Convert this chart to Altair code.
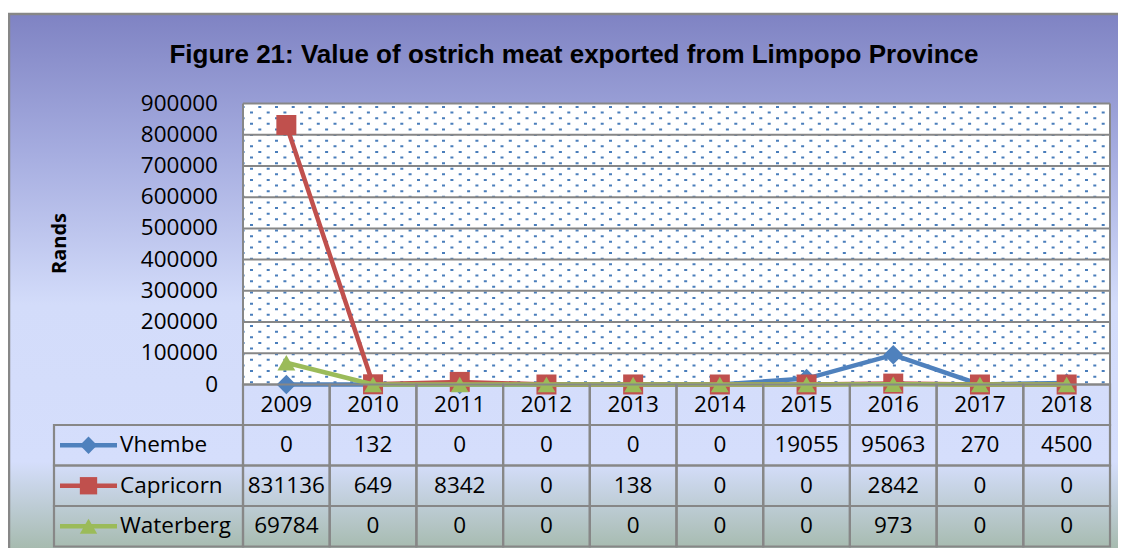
import altair as alt
import pandas as pd
import numpy as np

# ---------------- data ----------------
years = [2009, 2010, 2011, 2012, 2013, 2014, 2015, 2016, 2017, 2018]
series_names = ["Vhembe", "Capricorn", "Waterberg"]
vhembe = [0, 132, 0, 0, 0, 0, 19055, 95063, 270, 4500]
capricorn = [831136, 649, 8342, 0, 138, 0, 0, 2842, 0, 0]
waterberg = [69784, 0, 0, 0, 0, 0, 0, 973, 0, 0]
y_ticks = [0, 100000, 200000, 300000, 400000, 500000, 600000, 700000, 800000, 900000]
title_text = "Figure 21: Value of ostrich meat exported from Limpopo Province"
y_title = "Rands"

series_colors = ["#4F81BD", "#C0504D", "#9BBB59"]
series_shapes = ["diamond", "square", "triangle-up"]
series_sizes = [380, 400, 320]

# ---------------- layout constants ----------------
PLOT_W = 867
PLOT_H = 281
ROW_H = 40.5
TABLE_H = 4 * ROW_H
FONT = "Open Sans"
FS = 22.5
GRID = "#878787"

values_by_series = [vhembe, capricorn, waterberg]
long_rows = []
for name, vals in zip(series_names, values_by_series):
    for yr, v in zip(years, vals):
        long_rows.append({"series": name, "year": yr, "value": v, "row": name, "label": str(v)})
long_df = pd.DataFrame(long_rows)
header_df = pd.DataFrame({"year": years, "row": ["hdr"] * len(years), "label": [str(y) for y in years]})
table_df = pd.concat([header_df, long_df[["year", "row", "label"]]], ignore_index=True)
legend_df = pd.DataFrame({"row": series_names})
tick_df = pd.DataFrame({"tick": y_ticks, "lab": [str(t) for t in y_ticks]})
title_df = pd.DataFrame({"t": [title_text]})
ytitle_df = pd.DataFrame({"t": [y_title]})

# texture of the plot area (dotted fill), decorative only
dot_y = 889000 - 18000 * np.arange(50)
dots_df = pd.DataFrame({"dy": dot_y, "par": np.arange(50) % 2})

xscale = alt.Scale(domain=[2008.5, 2018.5], nice=False, zero=False)
yscale = alt.Scale(domain=[0, 900000], range=[PLOT_H, 0], nice=False)
tscale = alt.Scale(domain=["hdr"] + series_names, range=[PLOT_H, PLOT_H + TABLE_H],
                   paddingInner=0, paddingOuter=0)
cscale = alt.Scale(domain=series_names, range=series_colors)
sscale = alt.Scale(domain=series_names, range=series_shapes)

one = pd.DataFrame({"a": [0]})

# ---------------- background frame & titles ----------------
bg = alt.Chart(one).mark_rect(
    fill=alt.Gradient(
        gradient="linear", x1=0, x2=0, y1=0, y2=1,
        stops=[
            alt.GradientStop(color="#7F83C3", offset=0.0),
            alt.GradientStop(color="#A6ADE0", offset=0.25),
            alt.GradientStop(color="#D3DCFA", offset=0.52),
            alt.GradientStop(color="#D5DEFC", offset=0.80),
            alt.GradientStop(color="#9CB39E", offset=0.99),
        ],
    ),
    stroke="#878787", strokeWidth=2.5,
).encode(x=alt.value(-234), x2=alt.value(PLOT_W + 40), y=alt.value(-89.5), y2=alt.value(470))

title = alt.Chart(title_df).mark_text(
    font="Liberation Sans", fontSize=26, fontWeight="bold", color="black",
    align="center", baseline="alphabetic"
).encode(x=alt.value(331), y=alt.value(-41), text="t:N")

ytitle = alt.Chart(ytitle_df).mark_text(
    font=FONT, fontSize=20, fontWeight="bold", color="black",
    align="center", baseline="middle", angle=270
).encode(x=alt.value(-183), y=alt.value(140), text="t:N")

# ---------------- plot area ----------------
plot_bg = alt.Chart(one).mark_rect(color="white").encode(
    x=alt.value(0), x2=alt.value(PLOT_W), y=alt.value(0), y2=alt.value(PLOT_H))

dots_a = alt.Chart(dots_df).transform_filter("datum.par == 0").mark_rule(
    color="#4A7EBB", strokeWidth=2, strokeDash=[3, 13.7], strokeDashOffset=1.4
).encode(y=alt.Y("dy:Q", scale=yscale, axis=None), x=alt.value(0), x2=alt.value(PLOT_W))
dots_b = alt.Chart(dots_df).transform_filter("datum.par == 1").mark_rule(
    color="#4A7EBB", strokeWidth=2, strokeDash=[3, 13.7], strokeDashOffset=9.7
).encode(y=alt.Y("dy:Q", scale=yscale, axis=None), x=alt.value(0), x2=alt.value(PLOT_W))

grid = alt.Chart(tick_df).mark_rule(color=GRID, strokeWidth=2).encode(
    y=alt.Y("tick:Q", scale=yscale, axis=None),
    x=alt.value(0), x2=alt.value(PLOT_W))

ylabels = alt.Chart(tick_df).mark_text(
    font=FONT, fontSize=FS, color="black", align="right", baseline="middle"
).encode(y=alt.Y("tick:Q", scale=yscale, axis=None), x=alt.value(-25), text="lab:N")

left_border = alt.Chart(one).mark_rule(color=GRID, strokeWidth=2).encode(
    x=alt.value(0), y=alt.value(0), y2=alt.value(PLOT_H))
right_border = alt.Chart(one).mark_rule(color=GRID, strokeWidth=2).encode(
    x=alt.value(PLOT_W), y=alt.value(0), y2=alt.value(PLOT_H))

series_layers = []
for name, col, shp, sz in zip(series_names, series_colors, series_shapes, series_sizes):
    base = alt.Chart(long_df).transform_filter(alt.datum.series == name)
    ln = base.mark_line(color=col, strokeWidth=4.5).encode(
        x=alt.X("year:Q", scale=xscale, axis=None),
        y=alt.Y("value:Q", scale=yscale, axis=None))
    pt = base.mark_point(color=col, filled=True, opacity=1, shape=shp, size=sz).encode(
        x=alt.X("year:Q", scale=xscale, axis=None),
        y=alt.Y("value:Q", scale=yscale, axis=None))
    series_layers += [ln, pt]

value_part = alt.layer(plot_bg, dots_a, dots_b, grid, ylabels, left_border, right_border, *series_layers)

# ---------------- data table ----------------
cells = alt.Chart(table_df).transform_calculate(
    x0="datum.year - 0.5", x1="datum.year + 0.5"
).mark_rect(fill="white", fillOpacity=0, stroke=GRID, strokeWidth=2.2).encode(
    x=alt.X("x0:Q", scale=xscale, axis=None), x2="x1:Q",
    y=alt.Y("row:N", scale=tscale, axis=None))

cell_text = alt.Chart(table_df).mark_text(
    font=FONT, fontSize=FS, color="black", align="center", baseline="middle"
).encode(
    x=alt.X("year:Q", scale=xscale, axis=None),
    y=alt.Y("row:N", scale=tscale, axis=None),
    text="label:N")

leg_cells = alt.Chart(legend_df).mark_rect(fill="white", fillOpacity=0, stroke=GRID, strokeWidth=2.2).encode(
    x=alt.value(-189), x2=alt.value(0), y=alt.Y("row:N", scale=tscale, axis=None))

leg_lines = alt.Chart(legend_df).mark_rule(strokeWidth=4.5).encode(
    x=alt.value(-183), x2=alt.value(-126),
    y=alt.Y("row:N", scale=tscale, axis=None),
    color=alt.Color("row:N", scale=cscale, legend=None))

leg_pts = alt.Chart(legend_df).mark_point(filled=True, opacity=1, size=300).encode(
    x=alt.value(-154.5),
    y=alt.Y("row:N", scale=tscale, axis=None),
    color=alt.Color("row:N", scale=cscale, legend=None),
    shape=alt.Shape("row:N", scale=sscale, legend=None))

leg_text = alt.Chart(legend_df).mark_text(
    font=FONT, fontSize=FS, color="black", align="left", baseline="middle"
).encode(x=alt.value(-123), y=alt.Y("row:N", scale=tscale, axis=None), text="row:N")

table_part = alt.layer(cells, cell_text, leg_cells, leg_lines, leg_pts, leg_text)

chart = alt.layer(bg, title, ytitle, value_part, table_part).resolve_scale(y="independent").properties(
    width=PLOT_W,
    height=PLOT_H + TABLE_H,
    autosize=alt.AutoSizeParams(type="none"),
    padding={"left": 235, "top": 95.5, "right": 8, "bottom": 540 - 95.5 - (PLOT_H + TABLE_H)},
    background="white",
).configure_view(stroke=None)

chart.save("out.html", embed_options={"renderer": "svg", "actions": False})
